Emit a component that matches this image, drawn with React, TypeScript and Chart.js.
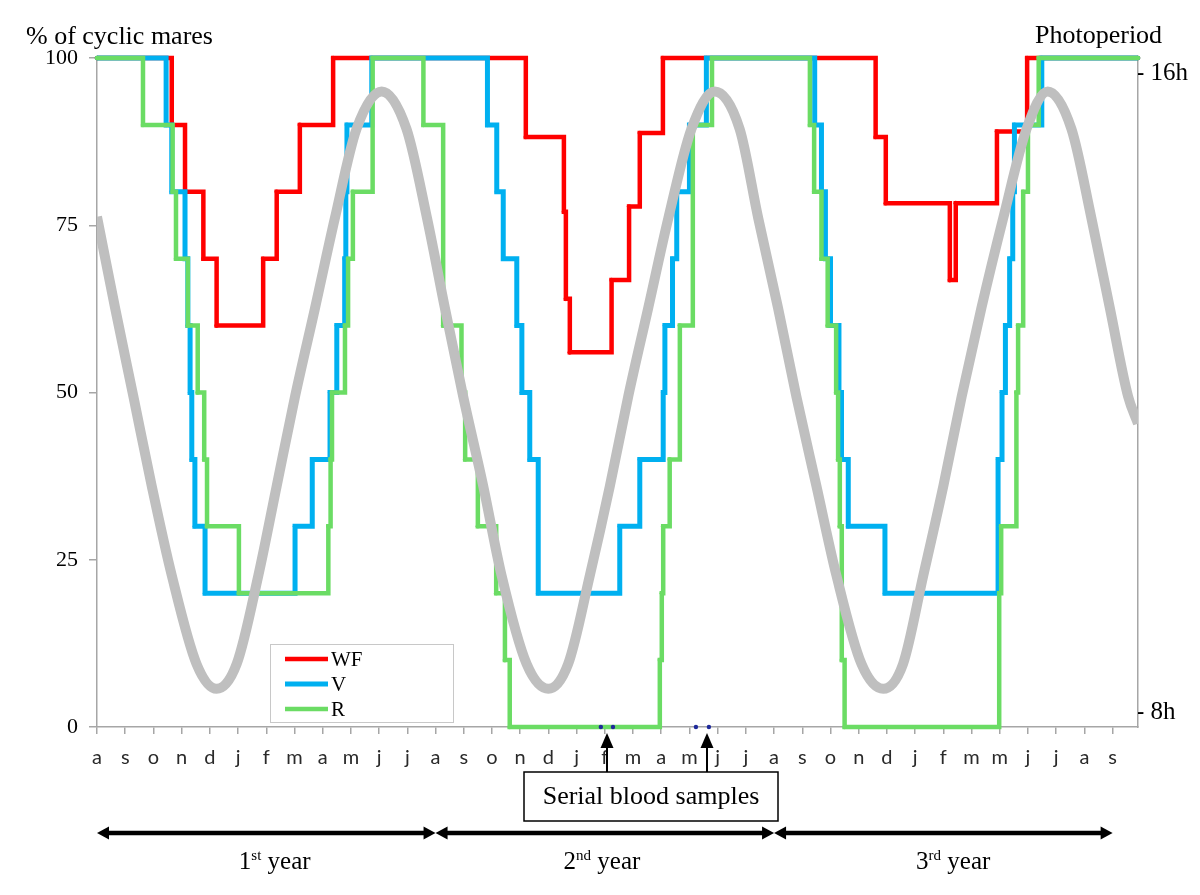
import React, { useEffect, useRef } from 'react';
import { Chart, registerables } from 'chart.js';

Chart.register(...registerables);

// ---------- data ----------
const monthLabels = [
  'a', 's', 'o', 'n', 'd', 'j', 'f', 'm', 'a', 'm', 'j', 'j',
  'a', 's', 'o', 'n', 'd', 'j', 'f', 'm', 'a', 'm', 'j', 'j',
  'a', 's', 'o', 'n', 'd', 'j', 'f', 'm', 'm', 'j', 'j', 'a', 's',
];

// WF (red) – step starts (month index) and % of cyclic mares
const wfX = [0, 2.65, 3.12, 3.77, 4.24, 5.89, 6.37, 7.19, 8.37, 15.2, 16.55, 16.62, 16.76, 18.24, 18.86, 19.24, 20.06, 27.6, 27.96, 30.23, 30.44, 31.9, 32.97, 36.9];
const wfY = [100, 90, 80, 70, 60, 70, 80, 90, 100, 88.2, 77, 64, 56, 66.8, 77.8, 88.8, 100, 88.2, 78.3, 66.8, 78.3, 89, 100, 100];

// V (blue)
const vX = [0, 2.45, 2.65, 3.12, 3.22, 3.3, 3.36, 3.47, 3.83, 7.02, 7.63, 8.26, 8.5, 8.78, 8.82, 8.86, 9.74, 13.84, 14.17, 14.4, 14.88, 15.06, 15.34, 15.64, 18.53, 19.24, 20.07, 20.13, 20.4, 20.55, 21.0, 21.6, 25.44, 25.68, 25.82, 26.0, 26.3, 26.39, 26.63, 27.93, 31.94, 32.08, 32.2, 32.35, 32.46, 32.52, 33.49, 36.9];
const vY = [100, 90, 80, 70, 60, 50, 40, 30, 20, 30, 40, 50, 60, 70, 80, 90, 100, 90, 80, 70, 60, 50, 40, 20, 30, 40, 50, 60, 70, 80, 90, 100, 90, 80, 70, 60, 50, 40, 30, 20, 40, 50, 60, 70, 80, 90, 100, 100];

// R (green)
const rX = [0, 1.63, 2.68, 2.8, 3.22, 3.57, 3.8, 3.9, 5.03, 8.2, 8.28, 8.33, 8.79, 8.9, 9.07, 9.77, 11.57, 12.27, 12.92, 13.05, 13.5, 14.15, 14.46, 14.63, 19.95, 20.02, 20.07, 20.3, 20.66, 21.12, 21.8, 25.27, 25.42, 25.68, 25.9, 26.2, 26.27, 26.33, 26.4, 26.5, 31.98, 32.05, 32.59, 32.65, 32.83, 33.0, 33.38, 36.9];
const rY = [100, 90, 80, 70, 60, 50, 40, 30, 20, 30, 40, 50, 60, 70, 80, 100, 90, 60, 50, 40, 30, 20, 10, 0, 10, 20, 30, 40, 60, 90, 100, 90, 80, 70, 60, 50, 40, 30, 10, 0, 20, 30, 50, 60, 80, 90, 100, 100];

// Photoperiod (hours of daylight)
const photoX = [0, 0.64, 1.29, 1.94, 2.65, 3.53, 4.24, 4.95, 5.72, 6.37, 7.02, 7.73, 8.43, 9.2, 10.09, 10.97, 11.7, 12.33, 12.98, 13.69, 14.34, 15.23, 16.0, 16.7, 17.47, 18.18, 18.83, 19.54, 20.25, 21.07, 21.9, 22.78, 23.44, 24.14, 24.79, 25.5, 26.21, 27.1, 27.87, 28.57, 29.29, 30.0, 30.65, 31.35, 32.12, 32.95, 33.7, 34.54, 35.25, 35.9, 36.55, 36.9];
const photoH = [14.2, 13.06, 11.95, 10.83, 9.71, 8.6, 8.29, 8.6, 9.71, 10.83, 11.95, 13.06, 14.18, 15.3, 15.77, 15.3, 14.18, 13.06, 11.95, 10.83, 9.71, 8.6, 8.29, 8.6, 9.71, 10.83, 11.95, 13.06, 14.18, 15.3, 15.77, 15.3, 14.18, 13.06, 11.95, 10.83, 9.71, 8.6, 8.29, 8.6, 9.71, 10.83, 11.95, 13.06, 14.18, 15.3, 15.77, 15.3, 14.18, 13.06, 11.95, 11.61];

// Serial blood samples
const sampleX = [17.86, 18.29, 21.23, 21.69];
const sampleY = [0, 0, 0, 0];
const sampleArrowX = [18.08, 21.62];

const yTicks = [0, 25, 50, 75, 100];
const y2Ticks = [8, 16];
const yearBounds = [0, 12, 24, 36];
const yearLabelX = [6.3, 17.9, 30.35];
const yearNums = ['1', '2', '3'];
const yearSups = ['st', 'nd', 'rd'];

// ---------- styles ----------
const RED = '#ff0000';
const BLUE = '#00b0f0';
const GREEN = '#6bdc64';
const GREY = '#bfbfbf';
const NAVY = '#1f2a9a';
const AXIS = '#a6a6a6';
const SERIF = '"Liberation Serif", "Times New Roman", serif';

const pts = (xs: number[], ys: number[]) => xs.map((x, i) => ({ x, y: ys[i] }));

const overlay = {
  id: 'overlay',
  afterDraw(chart: any) {
    const { ctx } = chart;
    const xs = chart.scales.x;
    ctx.save();
    ctx.fillStyle = '#000';
    ctx.textAlign = 'left';
    ctx.textBaseline = 'alphabetic';
    ctx.font = `26px ${SERIF}`;
    ctx.fillText('% of cyclic mares', 26, 44);
    ctx.fillText('Photoperiod', 1035, 43);

    // legend
    ctx.strokeStyle = '#c8c8c8';
    ctx.lineWidth = 1;
    ctx.strokeRect(270.5, 644.5, 183, 78);
    chart.data.datasets.slice(0, 3).forEach((ds: any, i: number) => {
      const yy = 659 + i * 25;
      ctx.strokeStyle = ds.borderColor;
      ctx.lineWidth = ds.borderWidth;
      ctx.beginPath();
      ctx.moveTo(285, yy);
      ctx.lineTo(328, yy);
      ctx.stroke();
      ctx.fillStyle = '#000';
      ctx.font = `21px ${SERIF}`;
      ctx.textBaseline = 'middle';
      ctx.textAlign = 'left';
      ctx.fillText(ds.label, 331, yy + 1);
    });

    // serial blood samples arrows + box
    const boxL = 524, boxT = 772, boxW = 254, boxH = 49;
    ctx.fillStyle = '#000';
    ctx.strokeStyle = '#000';
    sampleArrowX.forEach((u) => {
      const px = Math.round(xs.getPixelForValue(u));
      ctx.beginPath();
      ctx.moveTo(px, 733);
      ctx.lineTo(px - 6.5, 748);
      ctx.lineTo(px + 6.5, 748);
      ctx.closePath();
      ctx.fill();
      ctx.lineWidth = 2;
      ctx.beginPath();
      ctx.moveTo(px, 746);
      ctx.lineTo(px, boxT);
      ctx.stroke();
    });
    ctx.lineWidth = 1.5;
    ctx.strokeRect(boxL, boxT, boxW, boxH);
    ctx.font = `26px ${SERIF}`;
    ctx.textAlign = 'center';
    ctx.textBaseline = 'alphabetic';
    ctx.fillText('Serial blood samples', boxL + boxW / 2, 804);

    // year arrows
    const ay = 833, hl = 12, hw = 6.5;
    for (let i = 0; i < 3; i++) {
      const x1 = xs.getPixelForValue(yearBounds[i]);
      const x2 = xs.getPixelForValue(yearBounds[i + 1]);
      ctx.lineWidth = 4.5;
      ctx.beginPath();
      ctx.moveTo(x1 + hl - 1, ay);
      ctx.lineTo(x2 - hl + 1, ay);
      ctx.stroke();
      ctx.beginPath();
      ctx.moveTo(x1, ay);
      ctx.lineTo(x1 + hl, ay - hw);
      ctx.lineTo(x1 + hl, ay + hw);
      ctx.closePath();
      ctx.fill();
      ctx.beginPath();
      ctx.moveTo(x2, ay);
      ctx.lineTo(x2 - hl, ay - hw);
      ctx.lineTo(x2 - hl, ay + hw);
      ctx.closePath();
      ctx.fill();
    }

    // year labels
    ctx.textAlign = 'left';
    ctx.textBaseline = 'alphabetic';
    const big = `25px ${SERIF}`, small = `15px ${SERIF}`;
    for (let i = 0; i < 3; i++) {
      const cx = xs.getPixelForValue(yearLabelX[i]);
      ctx.font = big;
      const w1 = ctx.measureText(yearNums[i]).width;
      const w3 = ctx.measureText(' year').width;
      ctx.font = small;
      const w2 = ctx.measureText(yearSups[i]).width;
      let sx = cx - (w1 + w2 + w3) / 2;
      const base = 869;
      ctx.font = big;
      ctx.fillText(yearNums[i], sx, base);
      sx += w1;
      ctx.font = small;
      ctx.fillText(yearSups[i], sx, base - 9);
      sx += w2;
      ctx.font = big;
      ctx.fillText(' year', sx, base);
    }
    ctx.restore();
  },
};

export default function App() {
  const ref = useRef<HTMLCanvasElement>(null);

  useEffect(() => {
    const canvas = ref.current;
    if (!canvas) return;
    const stepDs = (label: string, xs: number[], ys: number[], color: string, width: number, order: number) => ({
      label,
      data: pts(xs, ys),
      borderColor: color,
      backgroundColor: color,
      borderWidth: width,
      stepped: 'before' as const,
      pointRadius: 2.3,
      pointBorderWidth: 0,
      pointBackgroundColor: color,
      order,
      clip: false as any,
      yAxisID: 'y',
    });
    const chart = new Chart(canvas, {
      type: 'line',
      data: {
        datasets: [
          stepDs('WF', wfX, wfY, RED, 4.5, 4),
          stepDs('V', vX, vY, BLUE, 5, 3),
          stepDs('R', rX, rY, GREEN, 4.5, 2),
          {
            label: 'Photoperiod',
            data: pts(photoX, photoH),
            borderColor: GREY,
            backgroundColor: GREY,
            borderWidth: 10,
            pointRadius: 0,
            cubicInterpolationMode: 'monotone',
            yAxisID: 'y2',
            order: 1,
          } as any,
          {
            label: 'Serial blood samples',
            type: 'scatter',
            data: pts(sampleX, sampleY),
            pointRadius: 2.2,
            pointBorderWidth: 0,
            backgroundColor: NAVY,
            borderColor: NAVY,
            showLine: false,
            yAxisID: 'y',
            order: 0,
            clip: false,
          } as any,
        ],
      },
      options: {
        responsive: false,
        animation: false,
        layout: { padding: { top: 58, left: 0, right: 0, bottom: 0 } },
        plugins: { legend: { display: false }, tooltip: { enabled: false } },
        scales: {
          x: {
            type: 'linear',
            min: 0,
            max: 36.9,
            afterBuildTicks: (s: any) => {
              s.ticks = monthLabels.map((_, i) => ({ value: i }));
            },
            afterFit: (s: any) => {
              s.height = 168;
            },
            ticks: {
              autoSkip: false,
              maxRotation: 0,
              padding: 12,
              color: '#2a2a2a',
              font: { family: 'Lato', size: 20 },
              callback: (v: any) => monthLabels[v] ?? '',
            },
            grid: { drawOnChartArea: false, tickLength: 7, color: AXIS, lineWidth: 1.5 },
            border: { color: AXIS, width: 1.5 },
          },
          y: {
            type: 'linear',
            position: 'left',
            min: 0,
            max: 100,
            afterBuildTicks: (s: any) => {
              s.ticks = yTicks.map((v) => ({ value: v }));
            },
            afterFit: (s: any) => {
              s.width = 97;
            },
            ticks: { padding: 11, color: '#000', font: { family: SERIF, size: 22 } },
            grid: { drawOnChartArea: false, tickLength: 8, color: AXIS, lineWidth: 1.5 },
            border: { color: AXIS, width: 1.5 },
          },
          y2: {
            type: 'linear',
            position: 'right',
            min: 7.812,
            max: 16.188,
            afterBuildTicks: (s: any) => {
              s.ticks = y2Ticks.map((v) => ({ value: v }));
            },
            afterFit: (s: any) => {
              s.width = 62;
            },
            ticks: {
              padding: -2,
              color: '#000',
              font: { family: SERIF, size: 25 },
              callback: (v: any) => `- ${v}h`,
            },
            grid: { drawOnChartArea: false, drawTicks: false },
            border: { color: AXIS, width: 1.5 },
          },
        },
      } as any,
      plugins: [overlay],
    });
    return () => chart.destroy();
  }, []);

  return (
    <div style={{ position: 'fixed', left: 0, top: 0, width: 1200, height: 895, background: '#fff' }}>
      <canvas ref={ref} width={1200} height={895} style={{ display: 'block' }} />
    </div>
  );
}
